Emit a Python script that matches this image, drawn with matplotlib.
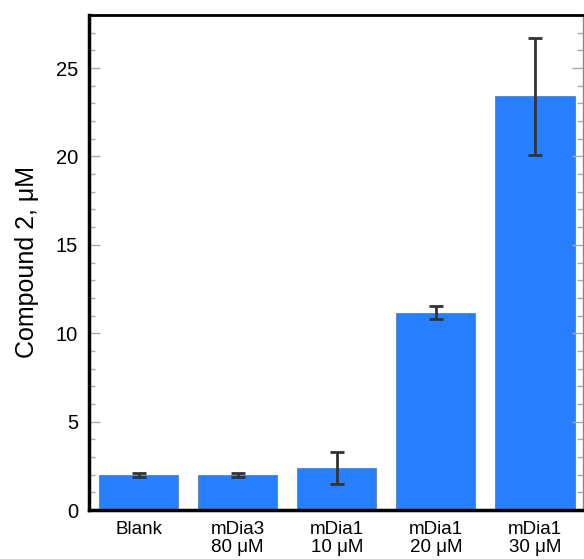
import matplotlib
matplotlib.use("Agg")
import matplotlib.pyplot as plt
from matplotlib.ticker import MultipleLocator

categories = ["Blank", "mDia3\n80 μM", "mDia1\n10 μM", "mDia1\n20 μM", "mDia1\n30 μM"]
values = [1.97, 1.97, 2.38, 11.15, 23.4]
errors = [0.12, 0.12, 0.9, 0.37, 3.3]

plt.rcParams['font.family'] = ['Liberation Sans', 'DejaVu Sans']

fig = plt.figure(figsize=(5.84, 5.59), dpi=100)
ax = fig.add_axes([89/584, 1-510/559, (582.5-89)/584, (510-15)/559])

x = list(range(len(categories)))
ax.bar(x, values, width=0.8, color='#2680ff', edgecolor='#5a7fb5', linewidth=0.6,
       yerr=errors, error_kw=dict(ecolor='#333333', elinewidth=2, capsize=5, capthick=2))

ax.set_xlim(-0.5, 4.48)
ax.set_ylim(0, 28)
ax.set_xticks(x)
ax.set_xticklabels(categories, fontsize=13.5, linespacing=1.1)
ax.tick_params(axis='x', length=0, pad=8)
ax.yaxis.set_major_locator(MultipleLocator(5))
ax.yaxis.set_minor_locator(MultipleLocator(1))
ax.tick_params(axis='y', which='major', direction='in', length=8, width=1, color='#aaaaaa',
               right=True, labelsize=14.5, pad=8)
ax.tick_params(axis='y', which='minor', direction='in', length=4, width=1, color='#aaaaaa', right=True)
ax.set_ylabel("Compound 2, μM", fontsize=18, labelpad=12)

for s in ['left', 'bottom']:
    ax.spines[s].set_linewidth(2.5)
    ax.spines[s].set_color('black')
ax.spines['top'].set_linewidth(2)
ax.spines['top'].set_color('black')
ax.spines['right'].set_linewidth(1)
ax.spines['right'].set_color('#888888')

fig.savefig("out.png", dpi=100)
